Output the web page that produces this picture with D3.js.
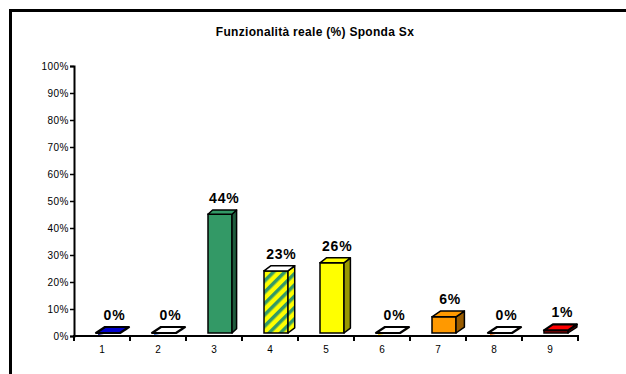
<!DOCTYPE html>
<html>
<head>
<meta charset="utf-8">
<script src="https://cdn.jsdelivr.net/npm/d3@7"></script>
<style>
  body { margin: 0; background: #fff; }
  text { font-family: Arial, "Liberation Sans", sans-serif; }
</style>
</head>
<body>
<script>
// chart data
var categories = ["1", "2", "3", "4", "5", "6", "7", "8", "9"];
var values = [0, 0, 44, 23, 26, 0, 6, 0, 1];
var valueLabels = ["0%", "0%", "44%", "23%", "26%", "0%", "6%", "0%", "1%"];
var yTicks = [0, 10, 20, 30, 40, 50, 60, 70, 80, 90, 100];

// face colours per bar: front, side, top
var frontColors = ["#000080", "#3366cc", "#339966", "url(#stripes)", "#ffff00", "#ffcc00", "#ff9900", "#ff6600", "#cc0000"];
var sideColors  = ["#000040", "#1f5c3d", "#1f5c3d", "url(#stripes)", "#999900", "#cc9900", "#995c00", "#cc3300", "#800000"];
var topColors   = ["#0000cc", "#ffffff", "#339966", "#ffffff", "#ffff00", "#ffffff", "#ff9900", "#ffffff", "#ff0000"];

var W = 626, H = 374;
var svg = d3.select("body").append("svg")
    .attr("width", W)
    .attr("height", H);

var defs = svg.append("defs");
var pat = defs.append("pattern")
    .attr("id", "stripes")
    .attr("patternUnits", "userSpaceOnUse")
    .attr("width", 8).attr("height", 8)
    .attr("patternTransform", "rotate(45)");
pat.append("rect").attr("width", 8).attr("height", 8).attr("fill", "#ffff00");
pat.append("rect").attr("width", 3.5).attr("height", 8).attr("fill", "#339966");

// outer frame (only left and top visible)
svg.append("path")
    .attr("d", "M10.5,374 V10.5 H626")
    .attr("fill", "none")
    .attr("stroke", "#000")
    .attr("stroke-width", 3);

svg.append("text")
    .attr("x", 315)
    .attr("y", 36)
    .attr("text-anchor", "middle")
    .attr("font-size", 12)
    .attr("font-weight", "bold")
    .attr("letter-spacing", 0.3)
    .text("Funzionalità reale (%) Sponda Sx");

var x = d3.scaleBand().domain(categories).range([74, 578]).padding(0);
var y = d3.scaleLinear().domain([0, 100]).range([336, 66]);
var base = y(0) - 3;   // front face sits slightly above the axis line

// y axis
var yAxis = d3.axisLeft(y).tickValues(yTicks).tickSize(4).tickFormat(function(d) { return d + "%"; });
var gy = svg.append("g").attr("transform", "translate(74,0)").call(yAxis);
gy.select(".domain").attr("stroke", "#000").attr("stroke-width", 2);
gy.selectAll(".tick line").attr("stroke", "#000").attr("stroke-width", 1.5);
gy.selectAll(".tick text").attr("font-size", 10).attr("x", -5).attr("fill", "#000")
    .attr("letter-spacing", 0.5)
    .style("font-family", "Arial, 'Liberation Sans', sans-serif");

// x axis
var xAxis = d3.axisBottom(x).tickSize(0);
var gx = svg.append("g").attr("transform", "translate(0,336)").call(xAxis);
gx.select(".domain").remove();
gx.selectAll(".tick text").attr("font-size", 10).attr("y", 10).attr("fill", "#000")
    .style("font-family", "Arial, 'Liberation Sans', sans-serif");
gx.append("line").attr("x1", 73).attr("x2", 579).attr("y1", 0).attr("y2", 0)
    .attr("stroke", "#000").attr("stroke-width", 2);
var bounds = categories.map(function(c) { return x(c); }).concat([x.range()[1]]);
gx.selectAll("line.sep").data(bounds).enter().append("line")
    .attr("class", "sep")
    .attr("x1", function(d) { return d; }).attr("x2", function(d) { return d; })
    .attr("y1", 0).attr("y2", 5)
    .attr("stroke", "#000").attr("stroke-width", 2);

// 3D columns
var bw = 24;
var bars = svg.append("g").selectAll("g").data(values).enter().append("g");

bars.each(function(v, i) {
  var g = d3.select(this);
  var x0 = x(categories[i]) + 22;
  var x1 = x0 + bw;
  var yt = base - (y(0) - y(v));
  var f = v / 100;
  var dx = 9 - 10 * f, dy = 6 - 4 * f;
  var sw = v === 0 || v === 1 ? 2.2 : 1.5;

  if (yt < base - 0.5) {
    g.append("rect")
      .attr("x", x0).attr("y", yt).attr("width", bw).attr("height", base - yt)
      .attr("fill", frontColors[i]).attr("stroke", "#000").attr("stroke-width", 1.5);
    g.append("path")
      .attr("d", "M" + x1 + "," + yt + " L" + (x1 + dx) + "," + (yt - dy) +
                 " L" + (x1 + dx) + "," + (base - dy) + " L" + x1 + "," + base + "Z")
      .attr("fill", sideColors[i]).attr("stroke", "#000").attr("stroke-width", 1.5)
      .attr("stroke-linejoin", "round");
  } else {
    // flat bar: thin coloured edge under the top face
    g.append("path")
      .attr("d", "M" + (x0 + 2) + "," + (base + 1) + " L" + (x1 + dx - 2) + "," + (base - dy + 2))
      .attr("stroke", frontColors[i]).attr("stroke-width", 2);
  }
  g.append("path")
    .attr("d", "M" + x0 + "," + yt + " L" + x1 + "," + yt + " L" + (x1 + dx) + "," + (yt - dy) +
               " L" + (x0 + dx) + "," + (yt - dy) + "Z")
    .attr("fill", topColors[i]).attr("stroke", "#000").attr("stroke-width", sw)
    .attr("stroke-linejoin", "round");

  g.append("text")
    .attr("x", (x0 + x1) / 2 + dx / 2 + 2)
    .attr("y", yt - dy - 7)
    .attr("text-anchor", "middle")
    .attr("font-size", 14)
    .attr("font-weight", "bold")
    .attr("letter-spacing", 0.8)
    .text(valueLabels[i]);
});
</script>
</body>
</html>
